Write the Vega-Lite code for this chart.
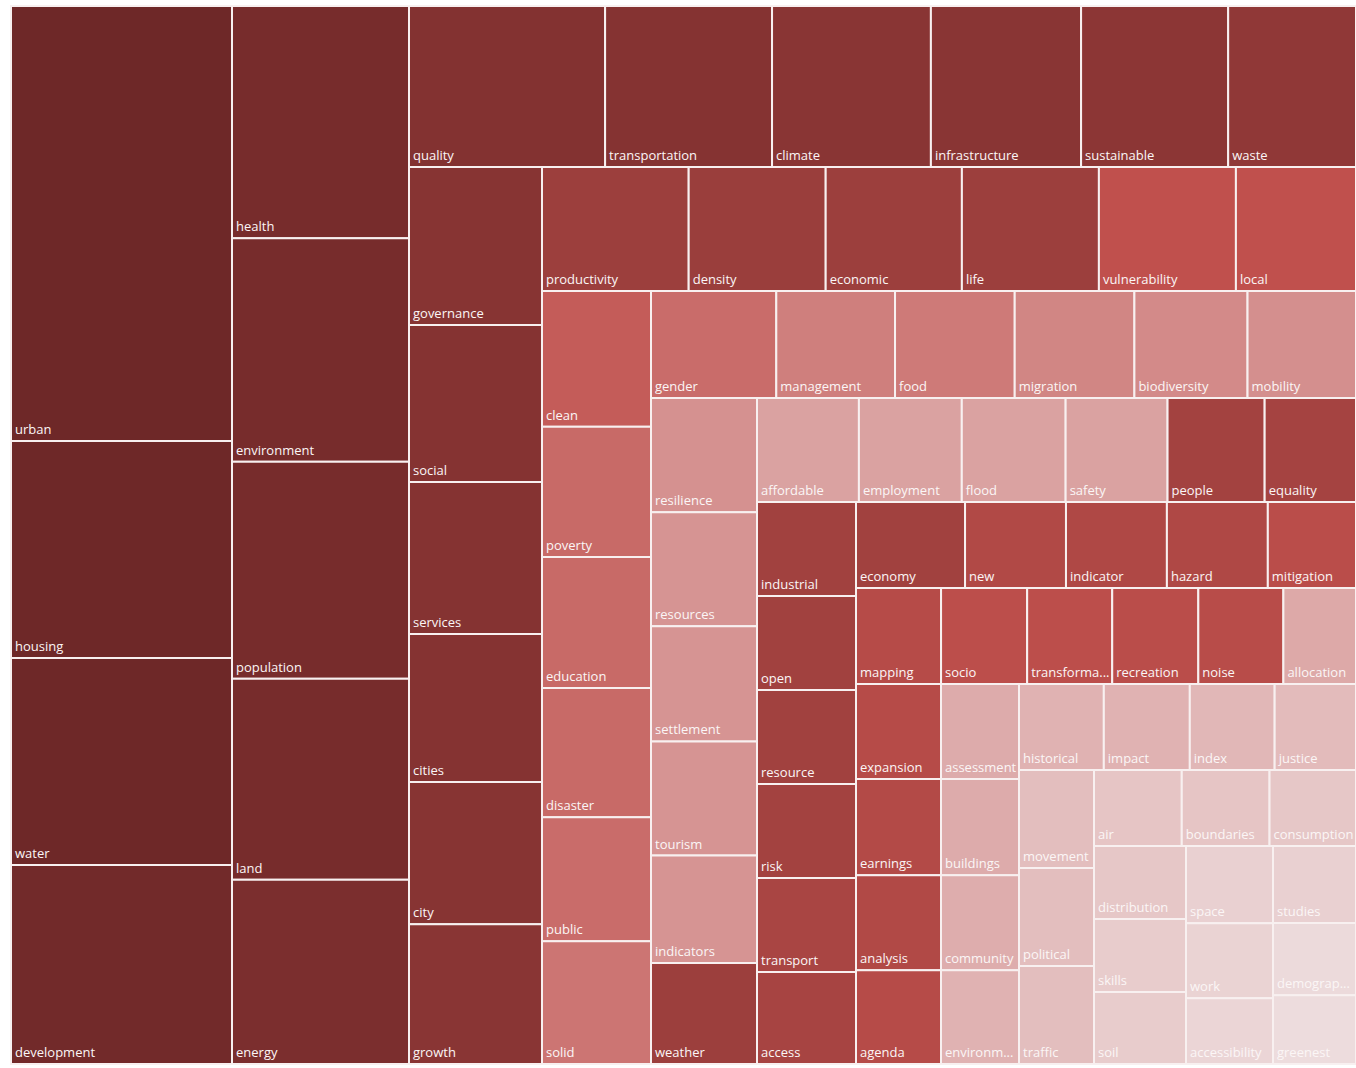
{
  "$schema": "https://vega.github.io/schema/vega-lite/v6.json",
  "width": 1345,
  "height": 1058,
  "autosize": {"type": "none"},
  "padding": {"left": 11, "top": 6, "right": 0, "bottom": 4},
  "background": "white",
  "config": {"view": {"stroke": null}},
  "datasets": {
    "strips": [
      {"strip": "S1", "orient": "col", "x0": 11, "x1": 232, "y0": 6, "y1": 1064},
      {"strip": "S2", "orient": "col", "x0": 232, "x1": 409, "y0": 6, "y1": 1064},
      {"strip": "S3", "orient": "row", "x0": 409, "x1": 1356, "y0": 6, "y1": 167},
      {"strip": "S4", "orient": "col", "x0": 409, "x1": 542, "y0": 167, "y1": 1064},
      {"strip": "S5", "orient": "row", "x0": 542, "x1": 1356, "y0": 167, "y1": 291},
      {"strip": "S6", "orient": "col", "x0": 542, "x1": 651, "y0": 291, "y1": 1064},
      {"strip": "S7", "orient": "row", "x0": 651, "x1": 1356, "y0": 291, "y1": 398},
      {"strip": "S8", "orient": "col", "x0": 651, "x1": 757, "y0": 398, "y1": 1064},
      {"strip": "S9", "orient": "row", "x0": 757, "x1": 1356, "y0": 398, "y1": 502},
      {"strip": "S10", "orient": "col", "x0": 757, "x1": 856, "y0": 502, "y1": 1064},
      {"strip": "S11", "orient": "row", "x0": 856, "x1": 1356, "y0": 502, "y1": 588},
      {"strip": "S12", "orient": "row", "x0": 856, "x1": 1356, "y0": 588, "y1": 684},
      {"strip": "S13", "orient": "col", "x0": 856, "x1": 941, "y0": 684, "y1": 1064},
      {"strip": "S14", "orient": "col", "x0": 941, "x1": 1019, "y0": 684, "y1": 1064},
      {"strip": "S15", "orient": "row", "x0": 1019, "x1": 1356, "y0": 684, "y1": 770},
      {"strip": "S16", "orient": "col", "x0": 1019, "x1": 1094, "y0": 770, "y1": 1064},
      {"strip": "S17", "orient": "row", "x0": 1094, "x1": 1356, "y0": 770, "y1": 846},
      {"strip": "S18", "orient": "col", "x0": 1094, "x1": 1186, "y0": 846, "y1": 1064},
      {"strip": "S19", "orient": "col", "x0": 1186, "x1": 1273, "y0": 846, "y1": 1064},
      {"strip": "S20", "orient": "col", "x0": 1273, "x1": 1356, "y0": 846, "y1": 1064}
    ],
    "cells": [
      {"term": "urban", "value": 961, "shade": 99, "strip": "S1"},
      {"term": "housing", "value": 480, "shade": 99, "strip": "S1"},
      {"term": "water", "value": 457, "shade": 99, "strip": "S1"},
      {"term": "development", "value": 440, "shade": 97, "strip": "S1"},
      {"term": "health", "value": 411, "shade": 95, "strip": "S2"},
      {"term": "environment", "value": 396, "shade": 95, "strip": "S2"},
      {"term": "population", "value": 384, "shade": 95, "strip": "S2"},
      {"term": "land", "value": 356, "shade": 95, "strip": "S2"},
      {"term": "energy", "value": 326, "shade": 93, "strip": "S2"},
      {"term": "quality", "value": 316, "shade": 89, "strip": "S3"},
      {"term": "transportation", "value": 269, "shade": 88, "strip": "S3"},
      {"term": "climate", "value": 256, "shade": 86, "strip": "S3"},
      {"term": "infrastructure", "value": 242, "shade": 86, "strip": "S3"},
      {"term": "sustainable", "value": 237, "shade": 85, "strip": "S3"},
      {"term": "waste", "value": 206, "shade": 83, "strip": "S3"},
      {"term": "governance", "value": 210, "shade": 87, "strip": "S4"},
      {"term": "social", "value": 209, "shade": 88, "strip": "S4"},
      {"term": "services", "value": 202, "shade": 88, "strip": "S4"},
      {"term": "cities", "value": 197, "shade": 88, "strip": "S4"},
      {"term": "city", "value": 189, "shade": 87, "strip": "S4"},
      {"term": "growth", "value": 186, "shade": 86, "strip": "S4"},
      {"term": "productivity", "value": 182, "shade": 77, "strip": "S5"},
      {"term": "density", "value": 170, "shade": 78, "strip": "S5"},
      {"term": "economic", "value": 169, "shade": 77, "strip": "S5"},
      {"term": "life", "value": 170, "shade": 77, "strip": "S5"},
      {"term": "vulnerability", "value": 170, "shade": 60, "strip": "S5"},
      {"term": "local", "value": 149, "shade": 60, "strip": "S5"},
      {"term": "clean", "value": 148, "shade": 55, "strip": "S6"},
      {"term": "poverty", "value": 142, "shade": 49, "strip": "S6"},
      {"term": "education", "value": 143, "shade": 49, "strip": "S6"},
      {"term": "disaster", "value": 141, "shade": 49, "strip": "S6"},
      {"term": "public", "value": 135, "shade": 48, "strip": "S6"},
      {"term": "solid", "value": 134, "shade": 44, "strip": "S6"},
      {"term": "gender", "value": 134, "shade": 48, "strip": "S7"},
      {"term": "management", "value": 127, "shade": 40, "strip": "S7"},
      {"term": "food", "value": 128, "shade": 42, "strip": "S7"},
      {"term": "migration", "value": 128, "shade": 37, "strip": "S7"},
      {"term": "biodiversity", "value": 121, "shade": 35, "strip": "S7"},
      {"term": "mobility", "value": 116, "shade": 33, "strip": "S7"},
      {"term": "resilience", "value": 121, "shade": 32, "strip": "S8"},
      {"term": "resources", "value": 121, "shade": 31, "strip": "S8"},
      {"term": "settlement", "value": 122, "shade": 31, "strip": "S8"},
      {"term": "tourism", "value": 121, "shade": 31, "strip": "S8"},
      {"term": "indicators", "value": 114, "shade": 31, "strip": "S8"},
      {"term": "weather", "value": 107, "shade": 77, "strip": "S8"},
      {"term": "affordable", "value": 106, "shade": 25, "strip": "S9"},
      {"term": "employment", "value": 107, "shade": 25, "strip": "S9"},
      {"term": "flood", "value": 108, "shade": 25, "strip": "S9"},
      {"term": "safety", "value": 106, "shade": 25, "strip": "S9"},
      {"term": "people", "value": 101, "shade": 74, "strip": "S9"},
      {"term": "equality", "value": 95, "shade": 73, "strip": "S9"},
      {"term": "industrial", "value": 93, "shade": 75, "strip": "S10"},
      {"term": "open", "value": 93, "shade": 75, "strip": "S10"},
      {"term": "resource", "value": 93, "shade": 75, "strip": "S10"},
      {"term": "risk", "value": 93, "shade": 74, "strip": "S10"},
      {"term": "transport", "value": 93, "shade": 71, "strip": "S10"},
      {"term": "access", "value": 91, "shade": 72, "strip": "S10"},
      {"term": "economy", "value": 94, "shade": 75, "strip": "S11"},
      {"term": "new", "value": 87, "shade": 67, "strip": "S11"},
      {"term": "indicator", "value": 87, "shade": 68, "strip": "S11"},
      {"term": "hazard", "value": 87, "shade": 68, "strip": "S11"},
      {"term": "mitigation", "value": 76, "shade": 63, "strip": "S11"},
      {"term": "mapping", "value": 82, "shade": 65, "strip": "S12"},
      {"term": "socio", "value": 83, "shade": 62, "strip": "S12"},
      {"term": "transformation", "value": 82, "shade": 62, "strip": "S12"},
      {"term": "recreation", "value": 83, "shade": 63, "strip": "S12"},
      {"term": "noise", "value": 82, "shade": 64, "strip": "S12"},
      {"term": "allocation", "value": 70, "shade": 22, "strip": "S12"},
      {"term": "expansion", "value": 81, "shade": 65, "strip": "S13"},
      {"term": "earnings", "value": 82, "shade": 66, "strip": "S13"},
      {"term": "analysis", "value": 81, "shade": 67, "strip": "S13"},
      {"term": "agenda", "value": 80, "shade": 65, "strip": "S13"},
      {"term": "assessment", "value": 74, "shade": 21, "strip": "S14"},
      {"term": "buildings", "value": 75, "shade": 21, "strip": "S14"},
      {"term": "community", "value": 74, "shade": 20, "strip": "S14"},
      {"term": "environmental", "value": 73, "shade": 18, "strip": "S14"},
      {"term": "historical", "value": 73, "shade": 18, "strip": "S15"},
      {"term": "impact", "value": 74, "shade": 18, "strip": "S15"},
      {"term": "index", "value": 73, "shade": 16, "strip": "S15"},
      {"term": "justice", "value": 70, "shade": 14, "strip": "S15"},
      {"term": "movement", "value": 74, "shade": 13, "strip": "S16"},
      {"term": "political", "value": 74, "shade": 13, "strip": "S16"},
      {"term": "traffic", "value": 74, "shade": 13, "strip": "S16"},
      {"term": "air", "value": 67, "shade": 10, "strip": "S17"},
      {"term": "boundaries", "value": 67, "shade": 10, "strip": "S17"},
      {"term": "consumption", "value": 66, "shade": 9, "strip": "S17"},
      {"term": "distribution", "value": 67, "shade": 9, "strip": "S18"},
      {"term": "skills", "value": 67, "shade": 7, "strip": "S18"},
      {"term": "soil", "value": 66, "shade": 7, "strip": "S18"},
      {"term": "space", "value": 67, "shade": 5, "strip": "S19"},
      {"term": "work", "value": 65, "shade": 4, "strip": "S19"},
      {"term": "accessibility", "value": 57, "shade": 3, "strip": "S19"},
      {"term": "studies", "value": 64, "shade": 5, "strip": "S20"},
      {"term": "demographic", "value": 60, "shade": 1, "strip": "S20"},
      {"term": "greenest", "value": 57, "shade": 0, "strip": "S20"}
    ]
  },
  "data": {"name": "cells"},
  "transform": [
    {"window": [{"op": "row_number", "as": "idx"}]},
    {"lookup": "strip", "from": {"data": {"name": "strips"}, "key": "strip", "fields": ["orient", "x0", "x1", "y0", "y1"]}},
    {"stack": "value", "groupby": ["strip"], "sort": [{"field": "idx", "order": "ascending"}], "offset": "normalize", "as": ["f0", "f1"]},
    {"calculate": "datum.orient === 'row' ? datum.x0 + datum.f0 * (datum.x1 - datum.x0) : datum.x0", "as": "cx0"},
    {"calculate": "datum.orient === 'row' ? datum.x0 + datum.f1 * (datum.x1 - datum.x0) : datum.x1", "as": "cx1"},
    {"calculate": "datum.orient === 'col' ? datum.y0 + datum.f0 * (datum.y1 - datum.y0) : datum.y0", "as": "cy0"},
    {"calculate": "datum.orient === 'col' ? datum.y0 + datum.f1 * (datum.y1 - datum.y0) : datum.y1", "as": "cy1"}
  ],
  "layer": [
    {
      "mark": {"type": "rect", "stroke": "#f8f0f0", "strokeWidth": 2},
      "encoding": {
        "x": {"field": "cx0", "type": "quantitative", "scale": {"domain": [11, 1356], "nice": false, "zero": false}, "axis": null},
        "x2": {"field": "cx1"},
        "y": {"field": "cy0", "type": "quantitative", "scale": {"domain": [6, 1064], "nice": false, "zero": false, "reverse": true}, "axis": null},
        "y2": {"field": "cy1"},
        "color": {"field": "shade", "type": "quantitative", "scale": {"domain": [0, 60, 100], "range": ["#eddcdd", "#c0504d", "#6c2727"], "interpolate": "rgb"}, "legend": null},
        "tooltip": [{"field": "term"}, {"field": "value"}]
      }
    },
    {
      "mark": {"type": "text", "align": "left", "baseline": "alphabetic", "dx": 4, "dy": -7, "font": "Open Sans", "fontSize": 13, "color": "#fbf6f6", "ellipsis": "...", "limit": {"expr": "datum.cx1 - datum.cx0 - 3"}},
      "encoding": {
        "x": {"field": "cx0", "type": "quantitative"},
        "y": {"field": "cy1", "type": "quantitative"},
        "text": {"field": "term"}
      }
    }
  ]
}
